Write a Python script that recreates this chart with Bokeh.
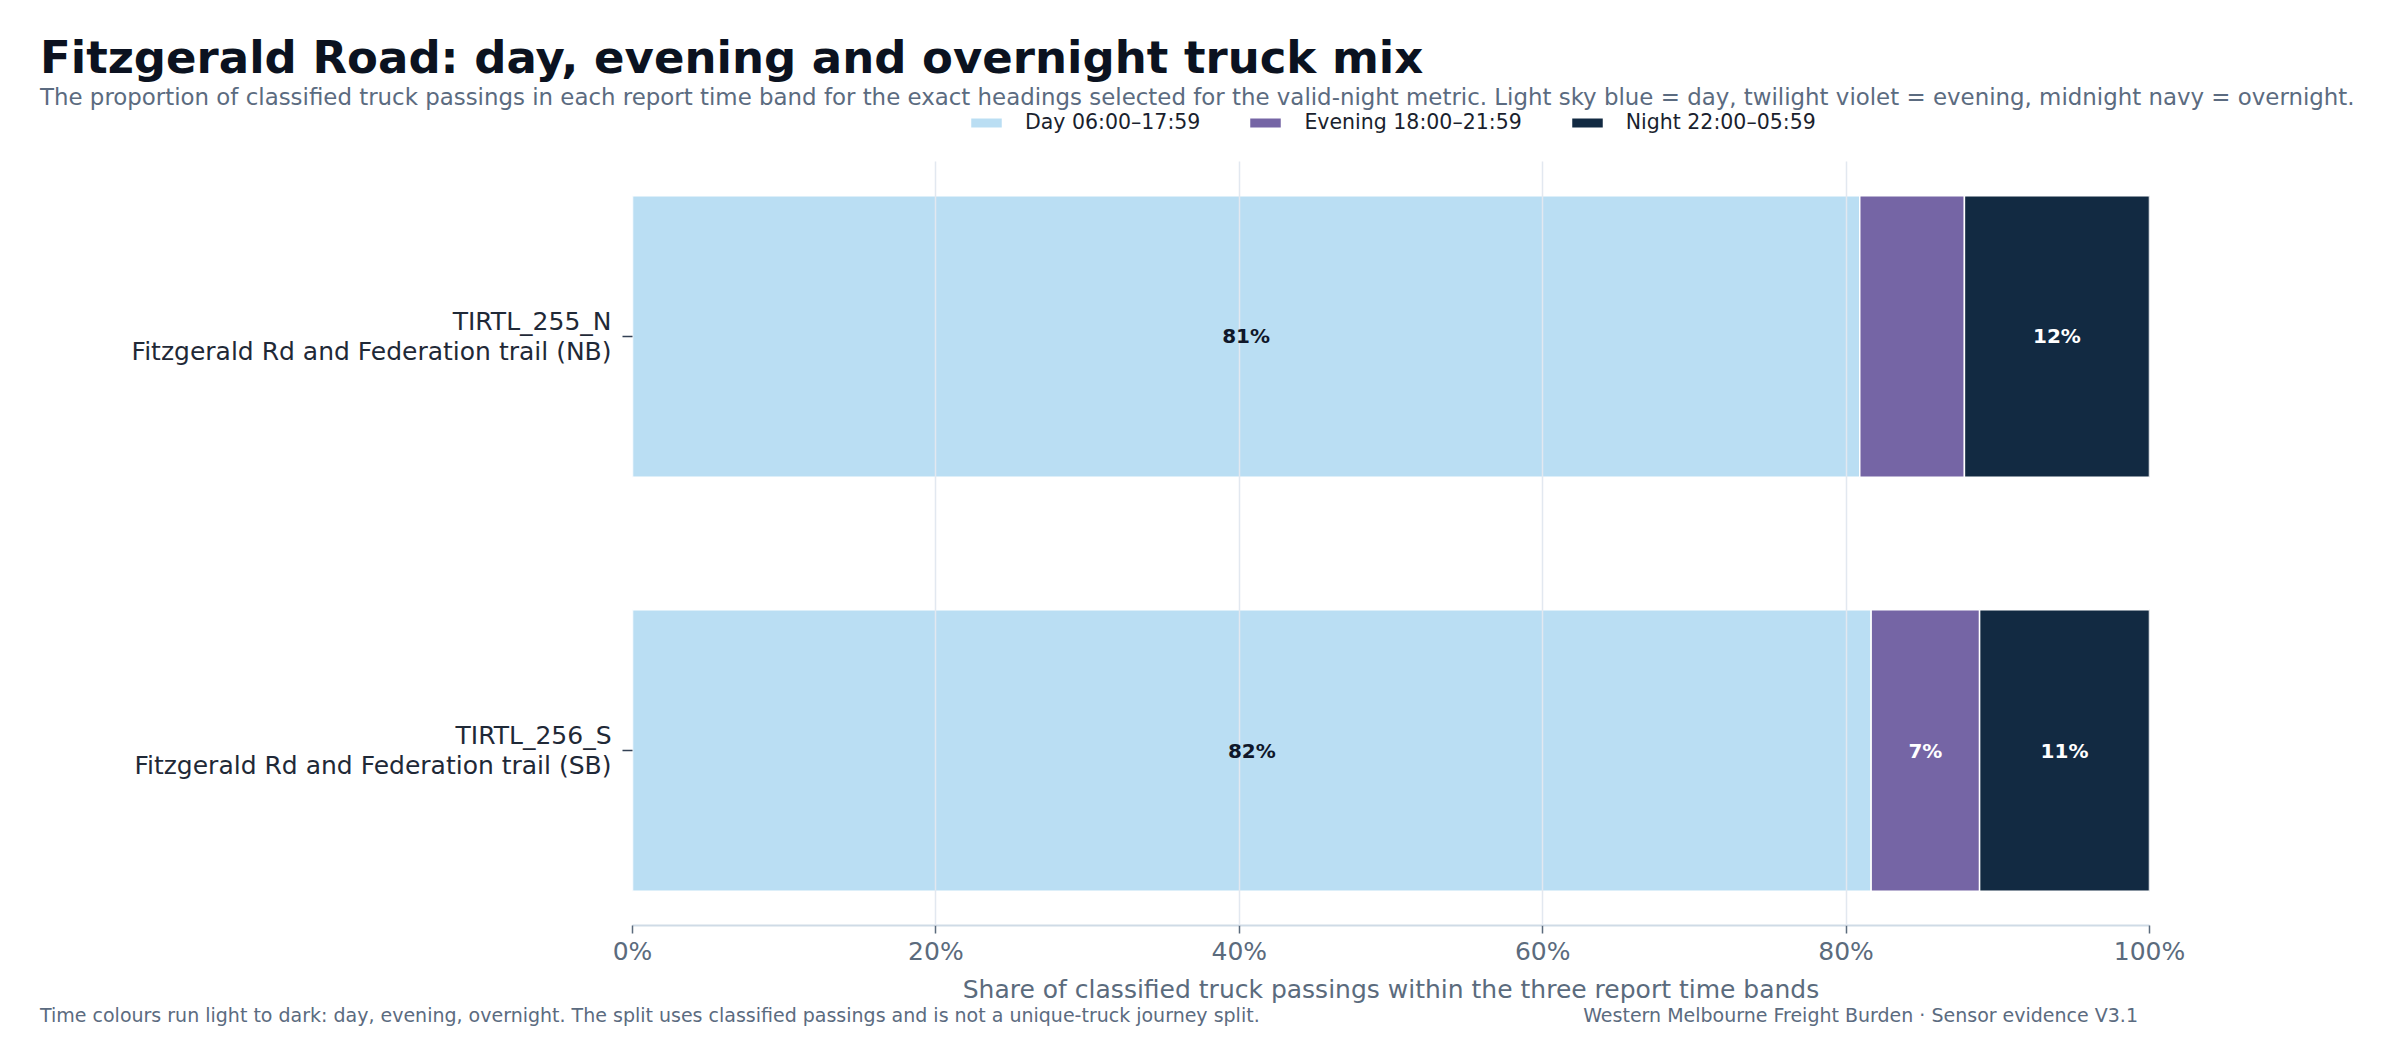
from bokeh.plotting import figure
from bokeh.layouts import column
from bokeh.models import (Range1d, FixedTicker, PrintfTickFormatter, LabelSet, Div,
                          ColumnDataSource, Legend, LegendItem)
from bokeh.core.properties import value
from bokeh.embed import file_html
from bokeh.resources import INLINE

# ---------------- data ----------------
sensors = ["TIRTL_255_N", "TIRTL_256_S"]
locations = ["Fitzgerald Rd and Federation trail (NB)", "Fitzgerald Rd and Federation trail (SB)"]
day = [80.9, 81.65]
evening = [6.9, 7.15]
night = [12.2, 11.2]
bands = ["Day 06:00\u201317:59", "Evening 18:00\u201321:59", "Night 22:00\u201305:59"]
x_ticks = [0, 20, 40, 60, 80, 100]

title_text = "Fitzgerald Road: day, evening and overnight truck mix"
subtitle_text = ("The proportion of classified truck passings in each report time band for the exact headings "
                 "selected for the valid-night metric. Light sky blue = day, twilight violet = evening, "
                 "midnight navy = overnight.")
xlabel_text = "Share of classified truck passings within the three report time bands"
footer_left = ("Time colours run light to dark: day, evening, overnight. The split uses classified passings "
               "and is not a unique-truck journey split.")
footer_right = "Western Melbourne Freight Burden \u00b7 Sensor evidence V3.1"

colors = ["#badef3", "#7565a5", "#122a42"]
label_colors = ["#0f172a", "#ffffff", "#ffffff"]
muted = "#5b6b80"

FONT = "DejaVu Sans"
W, H = 2380, 1040
FL, FR, FT, FB = 632, 2149, 161, 925   # main frame edges in page px
HEAD_H = 110                           # title block height
LEG_H = FT - HEAD_H                    # legend strip height
BOTTOM = 78                            # main figure bottom border (axis)
FOOT_H = H - FB - BOTTOM
Y_TOP, Y_BOT = -0.4227, 1.4227

# ---------------- header: title and subtitle ----------------
head_html = (
    '<div style="position:relative;width:%dpx;height:%dpx;font-family:\'DejaVu Sans\';">'
    '<div style="position:absolute;left:40px;top:35px;font-size:45px;font-weight:bold;'
    'line-height:1;color:#0b1220;white-space:nowrap;">%s</div>'
    '<div style="position:absolute;left:40px;top:86px;font-size:22.9px;line-height:1;'
    'color:%s;white-space:nowrap;">%s</div></div>'
) % (W, HEAD_H, title_text, muted, subtitle_text)
head = Div(text=head_html, width=W, height=HEAD_H, margin=0)

# ---------------- legend strip ----------------
lp = figure(width=W, height=LEG_H, x_range=Range1d(0, 1), y_range=Range1d(0, 1),
            min_border=0, x_axis_location=None, y_axis_location=None,
            toolbar_location=None, output_backend="svg",
            background_fill_alpha=0, border_fill_alpha=0)
lp.outline_line_color = None
lp.title.visible = False
lp.xgrid.visible = False
lp.ygrid.visible = False
dummy = [lp.hbar(y=[-10], left=[0], right=[1], height=0.1, fill_color=colors[k],
                 line_color="white", line_width=1.5) for k in range(3)]
legend = Legend(items=[LegendItem(label=bands[k], renderers=[dummy[k]]) for k in range(3)],
                orientation="horizontal", location=(966 - FL, LEG_H - (134 - HEAD_H)),
                glyph_width=40, glyph_height=13, label_standoff=19, spacing=45,
                padding=0, margin=0, border_line_color=None, background_fill_alpha=0,
                label_text_font=FONT, label_text_font_size="20.5px", label_text_color="#1a1f2e")
lp.add_layout(legend, "center")

# ---------------- main chart ----------------
ypos = list(range(len(sensors)))
src = ColumnDataSource(dict(y=ypos, day=day, evening=evening, night=night))

p = figure(frame_width=FR - FL, frame_height=FB - FT, output_backend="svg", toolbar_location=None,
           x_range=Range1d(0, 100), y_range=Range1d(Y_BOT, Y_TOP),
           min_border_left=FL, min_border_right=W - FR, min_border_top=0,
           min_border_bottom=BOTTOM, background_fill_color="white",
           border_fill_color="white")
p.outline_line_color = None
p.title.visible = False

rs = p.hbar_stack(["day", "evening", "night"], y="y", height=0.68, color=colors,
                  line_color="white", line_width=1.5, source=src)

lx, ly, lt, lc = [], [], [], []
for i in ypos:
    vals = [day[i], evening[i], night[i]]
    left = 0.0
    for j, v in enumerate(vals):
        if v >= 7.0:
            lx.append(left + v / 2)
            ly.append(i)
            lt.append("%d%%" % round(v))
            lc.append(label_colors[j])
        left += v
lsrc = ColumnDataSource(dict(x=lx, y=ly, t=lt, c=lc))
p.add_layout(LabelSet(x="x", y="y", text="t", source=lsrc, text_color="c",
                      text_align="center", text_baseline="middle",
                      text_font=value(FONT), text_font_size=value("20px"),
                      text_font_style=value("bold")))

p.xaxis.ticker = FixedTicker(ticks=x_ticks)
p.xaxis.formatter = PrintfTickFormatter(format="%d%%")
p.xaxis.axis_line_color = "#cfdbe6"
p.xaxis.axis_line_width = 2
p.xaxis.major_tick_line_color = "#5b6b7d"
p.xaxis.major_tick_line_width = 1.5
p.xaxis.major_tick_out = 8
p.xaxis.major_tick_in = 0
p.xaxis.minor_tick_line_color = None
p.xaxis.major_label_text_font = FONT
p.xaxis.major_label_text_font_size = "25px"
p.xaxis.major_label_text_color = "#5b6b7d"
p.xaxis.major_label_standoff = 3
p.xaxis.axis_label = xlabel_text
p.xaxis.axis_label_text_font = FONT
p.xaxis.axis_label_text_font_size = "25px"
p.xaxis.axis_label_text_font_style = "normal"
p.xaxis.axis_label_text_color = "#5b6b7d"
p.xaxis.axis_label_standoff = 6

p.yaxis.ticker = FixedTicker(ticks=ypos)
p.yaxis.major_label_overrides = {i: sensors[i] + "\n" + locations[i] for i in ypos}
p.yaxis.axis_line_color = None
p.yaxis.major_tick_line_color = "#334155"
p.yaxis.major_tick_line_width = 1.5
p.yaxis.major_tick_out = 10
p.yaxis.major_tick_in = 0
p.yaxis.minor_tick_line_color = None
p.yaxis.major_label_text_font = FONT
p.yaxis.major_label_text_font_size = "25px"
p.yaxis.major_label_text_line_height = 1.06
p.yaxis.major_label_text_color = "#1f2937"
p.yaxis.major_label_standoff = 11

p.xgrid.ticker = FixedTicker(ticks=x_ticks)
p.xgrid.grid_line_color = "#e2e8f0"
p.xgrid.grid_line_width = 1.5
p.xgrid.level = "guide"
p.ygrid.grid_line_color = None

# ---------------- footer ----------------
foot_html = (
    '<div style="position:relative;width:%dpx;height:%dpx;font-family:\'DejaVu Sans\';'
    'font-size:19px;line-height:1;color:%s;">'
    '<div style="position:absolute;left:40px;top:0px;white-space:nowrap;">%s</div>'
    '<div style="position:absolute;right:%dpx;top:0px;white-space:nowrap;">%s</div></div>'
) % (W, FOOT_H, muted, footer_left, W - 2138, footer_right)
foot = Div(text=foot_html, width=W, height=FOOT_H, margin=0)

layout = column(head, lp, p, foot, spacing=0)
open("out.html", "w").write(file_html(layout, INLINE))
